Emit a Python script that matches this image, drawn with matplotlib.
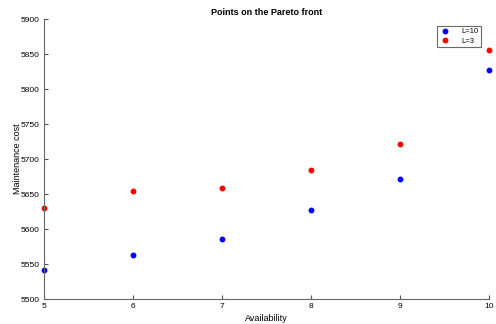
import matplotlib
matplotlib.use("Agg")
import matplotlib.pyplot as plt

availability = [5, 6, 7, 8, 9, 10]
cost_L10 = [5541, 5563, 5586, 5627, 5672, 5828]
cost_L3 = [5630, 5654, 5658, 5685, 5722, 5856]
xticks = [5, 6, 7, 8, 9, 10]
yticks = [5500, 5550, 5600, 5650, 5700, 5750, 5800, 5850, 5900]

plt.rcParams['font.family'] = ['Liberation Sans', 'DejaVu Sans']
fig = plt.figure(figsize=(4.96, 3.24), dpi=100)
ax = fig.add_axes([0.0887, 0.077, 0.898, 0.864])
ax.plot(availability, cost_L10, 'o', color='#0000ff', markersize=3.2, label='L=10', clip_on=False)
ax.plot(availability, cost_L3, 'o', color='#ff0000', markersize=3.2, label='L=3', clip_on=False)
ax.set_xlim(5, 10)
ax.set_ylim(5500, 5900)
ax.set_xticks(xticks)
ax.set_yticks(yticks)
ax.tick_params(direction='in', labelsize=6, length=3, color='#555555', width=0.8, pad=3)
for s in ['top', 'right']:
    ax.spines[s].set_visible(False)
for s in ['left', 'bottom']:
    ax.spines[s].set_color('#666666')
    ax.spines[s].set_linewidth(0.8)
ax.set_xlabel('Availability', fontsize=6.5, labelpad=3)
ax.set_ylabel('Maintenance cost', fontsize=6.5, labelpad=-1)
ax.set_title('Points on the Pareto front', fontsize=6.5, fontweight='bold', pad=3)
leg = ax.legend(loc='upper right', bbox_to_anchor=(0.99, 0.99), fontsize=5.5, frameon=True,
                fancybox=False, edgecolor='#444444', handlelength=1.5, borderpad=0.3,
                labelspacing=0.3, markerscale=1.0, handletextpad=1.5)
leg.get_frame().set_linewidth(0.8)
fig.savefig('out.png', dpi=100)
